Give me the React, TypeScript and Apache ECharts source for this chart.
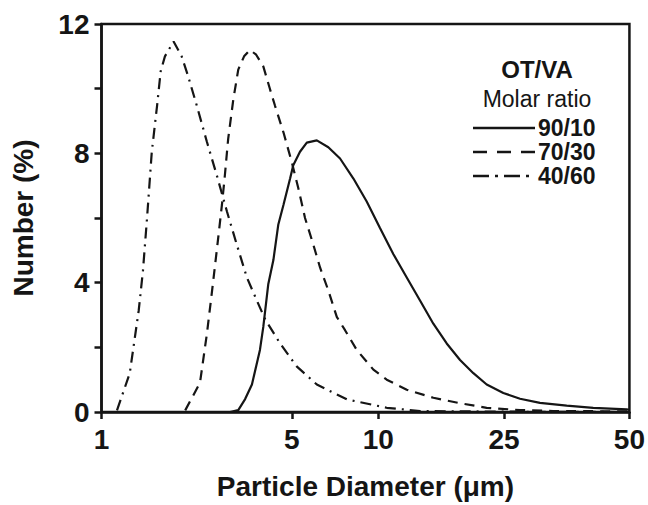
import React, { useEffect, useRef } from "react";
import * as echarts from "echarts";

// Particle diameter axis: labelled ticks (µm) and their relative spacing along the axis
const tickDiameters = [1, 5, 10, 25, 50];
const tickFractions = [0, 0.3604, 0.5244, 0.7625, 1];

// Size distributions: diameter (µm) and number (%)
const d9010 = [2.97, 3.18, 3.37, 3.57, 3.82, 3.93, 4.1, 4.28, 4.46, 4.66, 4.93, 5.06, 5.34, 5.64, 6.11, 6.7, 7.36, 8.19, 9.11, 10.12, 11.16, 12.3, 13.55, 14.93, 16.46, 18.14, 19.99, 22.03, 24.87, 27.31, 30.49, 35.35, 40.93, 49.25, 50];
const n9010 = [0, 0.06, 0.4, 0.85, 1.92, 2.63, 3.96, 4.7, 5.79, 6.4, 7.22, 7.63, 8.05, 8.33, 8.4, 8.19, 7.84, 7.22, 6.51, 5.69, 4.88, 4.16, 3.45, 2.73, 2.12, 1.61, 1.2, 0.85, 0.59, 0.41, 0.28, 0.2, 0.13, 0.08, 0.07];

const d7030 = [2.03, 2.3, 2.44, 2.54, 2.65, 2.77, 2.84, 2.92, 3.05, 3.18, 3.34, 3.51, 3.7, 3.93, 4.16, 4.34, 4.66, 5.0, 5.27, 5.56, 5.94, 6.27, 6.7, 7.17, 7.66, 8.41, 9.61, 10.63, 12.3, 14.93, 18.14, 22.03, 27.31, 32.78, 50];
const n7030 = [0.05, 0.9, 2.43, 3.65, 4.98, 6.41, 7.33, 8.45, 9.67, 10.59, 11.0, 11.2, 11.05, 10.69, 9.98, 9.47, 8.65, 7.73, 6.92, 6.0, 5.18, 4.47, 3.76, 2.94, 2.53, 1.92, 1.31, 1.0, 0.69, 0.44, 0.27, 0.13, 0.06, 0.03, 0.02];

const d4060 = [1.14, 1.27, 1.37, 1.42, 1.47, 1.53, 1.6, 1.65, 1.71, 1.84, 1.97, 2.08, 2.24, 2.44, 2.65, 2.89, 3.14, 3.42, 3.72, 3.99, 4.53, 5.2, 6.11, 7.77, 10.63, 13.55, 25, 50];
const n4060 = [0.05, 1.2, 3.14, 4.37, 6.0, 8.04, 9.47, 10.54, 11.0, 11.46, 11.0, 10.39, 9.47, 8.35, 7.33, 6.2, 5.18, 4.16, 3.45, 2.87, 2.12, 1.41, 0.85, 0.39, 0.13, 0.03, 0.01, 0];

const seriesNames = ["90/10", "70/30", "40/60"];
const legendTitle = "OT/VA";
const legendSubtitle = "Molar ratio";
const yTicks = [0, 4, 8, 12];

// Position of a diameter along the x axis (log-interpolated between labelled ticks)
function toAxis(d: number): number {
  const ld = Math.log10(d);
  for (let i = 0; i < tickDiameters.length - 1; i++) {
    const a = Math.log10(tickDiameters[i]);
    const b = Math.log10(tickDiameters[i + 1]);
    if (ld <= b || i === tickDiameters.length - 2) {
      const t = (ld - a) / (b - a);
      return tickFractions[i] + t * (tickFractions[i + 1] - tickFractions[i]);
    }
  }
  return 1;
}

const pairs = (xs: number[], ys: number[]) => xs.map((x, i) => [toAxis(x), ys[i]]);

const INK = "#151515";
const FONT = "'Liberation Sans', Arial, sans-serif";
const DASHES: (number[] | "solid")[] = ["solid", [10, 7], [11, 6, 2, 6]];
const LEGEND_DASHES: (number[] | null)[] = [null, [14, 10], [16, 6, 3, 6]];

export default function App() {
  const ref = useRef<HTMLDivElement>(null);

  useEffect(() => {
    if (!ref.current) return;
    const chart = echarts.init(ref.current, undefined, { renderer: "svg" });
    const tickPositions = tickDiameters.map(toAxis);
    const labelFor = (v: number) => {
      const i = tickPositions.findIndex((p) => Math.abs(p - v) < 1e-6);
      return i >= 0 ? String(tickDiameters[i]) : "";
    };

    // Key: header lines, then a sample stroke and label per series
    const keyX = 537;
    const rowY = [128, 152, 176];
    const keyGraphics: any[] = [
      {
        type: "text",
        x: keyX,
        y: 69,
        style: { text: legendTitle, font: `bold 24px ${FONT}`, fill: INK, align: "center", verticalAlign: "middle" },
      },
      {
        type: "text",
        x: keyX,
        y: 99,
        style: { text: legendSubtitle, font: `23px ${FONT}`, fill: INK, align: "center", verticalAlign: "middle" },
      },
    ];
    seriesNames.forEach((name, i) => {
      keyGraphics.push({
        type: "line",
        shape: { x1: 473, y1: rowY[i], x2: 535, y2: rowY[i] },
        style: { stroke: INK, lineWidth: 2.4, lineDash: LEGEND_DASHES[i] || undefined },
      });
      keyGraphics.push({
        type: "text",
        x: keyX + 1,
        y: rowY[i],
        style: { text: name, font: `bold 23px ${FONT}`, fill: INK, align: "left", verticalAlign: "middle" },
      });
    });

    const seriesData = [pairs(d9010, n9010), pairs(d7030, n7030), pairs(d4060, n4060)];

    chart.setOption({
      animation: false,
      backgroundColor: "#ffffff",
      grid: {
        left: 101.5,
        right: 18.5,
        top: 24,
        bottom: 89,
        show: true,
        borderColor: INK,
        borderWidth: 2.5,
      },
      xAxis: {
        type: "value",
        min: 0,
        max: 1,
        name: "Particle Diameter (\u03bcm)",
        nameLocation: "middle",
        nameGap: 60,
        nameTextStyle: { fontFamily: FONT, fontWeight: "bold", fontSize: 28, color: INK },
        axisLine: { show: true, lineStyle: { color: INK, width: 2.5 } },
        axisTick: { show: true, inside: false, length: 7, lineStyle: { color: INK, width: 2.5 }, customValues: tickPositions },
        axisLabel: {
          customValues: tickPositions,
          formatter: (v: number) => labelFor(v),
          margin: 13,
          fontFamily: FONT,
          fontWeight: "bold",
          fontSize: 28,
          color: INK,
        },
        splitLine: { show: false },
      },
      yAxis: {
        type: "value",
        min: 0,
        max: 12,
        interval: 2,
        name: "Number (%)",
        nameLocation: "middle",
        nameGap: 64,
        nameTextStyle: { fontFamily: FONT, fontWeight: "bold", fontSize: 28, color: INK },
        axisLine: { show: true, lineStyle: { color: INK, width: 2.5 } },
        axisTick: { show: true, inside: false, length: 7, lineStyle: { color: INK, width: 2.5 } },
        axisLabel: {
          formatter: (v: number) => (yTicks.includes(v) ? String(v) : ""),
          margin: 12,
          fontFamily: FONT,
          fontWeight: "bold",
          fontSize: 28,
          color: INK,
        },
        splitLine: { show: false },
      },
      graphic: keyGraphics,
      series: seriesNames.map((name, i) => ({
        type: "line",
        name,
        data: seriesData[i],
        symbol: "none",
        showSymbol: false,
        z: 3,
        lineStyle: { color: INK, width: 2.2, type: DASHES[i] },
      })),
    });
    return () => chart.dispose();
  }, []);

  return <div ref={ref} style={{ position: "fixed", left: 0, top: 0, width: 648, height: 505 }} />;
}
